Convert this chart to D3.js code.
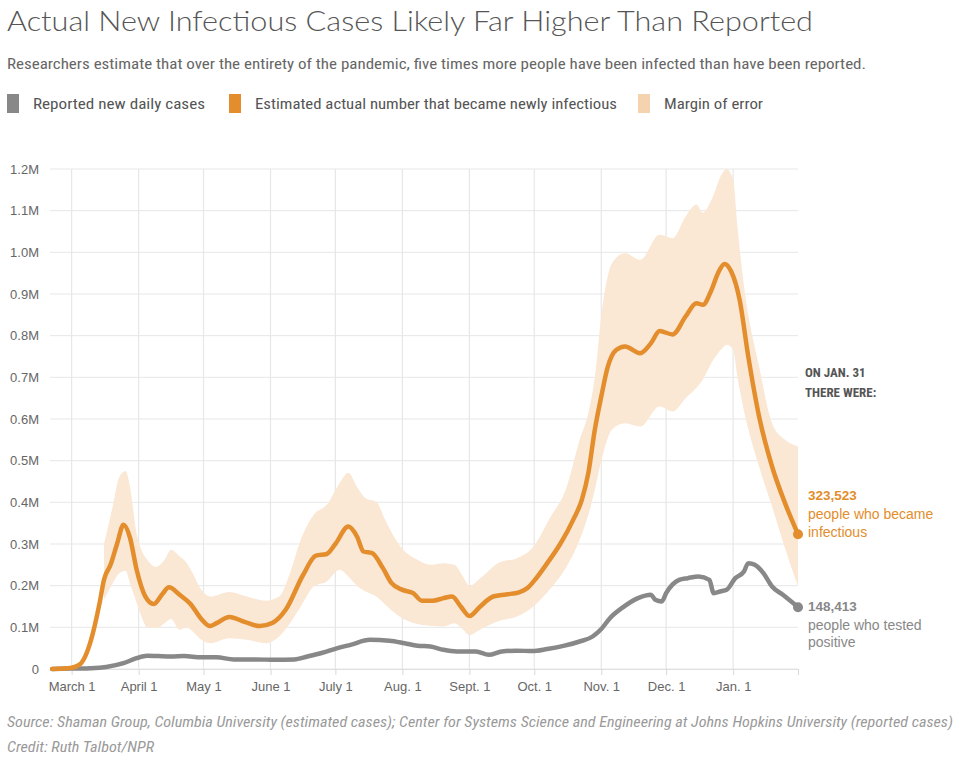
<!DOCTYPE html>
<html>
<head>
<meta charset="utf-8">
<script src="https://cdn.jsdelivr.net/npm/d3@7"></script>
<style>
  html, body { margin: 0; padding: 0; background: #fff; }
  svg { display: block; }
</style>
</head>
<body>
<svg id="chart" width="964" height="762"></svg>
<script>
// ---------------- DATA ----------------
const estDates = ["2020-02-21","2020-03-01","2020-03-05","2020-03-10","2020-03-14","2020-03-16","2020-03-19","2020-03-22","2020-03-25","2020-03-28","2020-03-31","2020-04-04","2020-04-08","2020-04-12","2020-04-15","2020-04-20","2020-04-25","2020-04-30","2020-05-04","2020-05-07","2020-05-13","2020-05-20","2020-05-27","2020-06-02","2020-06-08","2020-06-16","2020-06-22","2020-06-27","2020-07-01","2020-07-07","2020-07-11","2020-07-14","2020-07-18","2020-07-23","2020-07-27","2020-08-01","2020-08-06","2020-08-10","2020-08-15","2020-08-20","2020-08-24","2020-08-28","2020-09-01","2020-09-06","2020-09-12","2020-09-18","2020-09-24","2020-09-28","2020-10-01","2020-10-07","2020-10-13","2020-10-19","2020-10-23","2020-10-26","2020-10-29","2020-11-01","2020-11-04","2020-11-08","2020-11-12","2020-11-19","2020-11-24","2020-11-28","2020-12-04","2020-12-10","2020-12-15","2020-12-18","2020-12-22","2020-12-25","2020-12-28","2020-12-31","2021-01-04","2021-01-08","2021-01-13","2021-01-19","2021-01-25","2021-01-31"];
const estValues = [0,3000,12000,70000,160000,215000,250000,300000,346000,315000,240000,175000,156000,180000,196000,178000,156000,120000,103000,110000,125000,113000,103000,111000,142000,225000,272000,276000,300000,342000,318000,282000,278000,242000,206000,190000,182000,164000,164000,170000,174000,150000,127000,150000,174000,179000,184000,195000,212000,254000,300000,358000,406000,470000,574000,654000,725000,766000,774000,758000,782000,811000,803000,846000,878000,874000,910000,950000,972000,955000,886000,750000,606000,486000,398000,323523];

const bandDates = ["2020-03-16","2020-03-20","2020-03-23","2020-03-26","2020-03-28","2020-03-31","2020-04-02","2020-04-05","2020-04-09","2020-04-13","2020-04-16","2020-04-20","2020-04-23","2020-04-26","2020-04-30","2020-05-04","2020-05-13","2020-05-21","2020-05-30","2020-06-05","2020-06-10","2020-06-15","2020-06-21","2020-06-27","2020-07-03","2020-07-07","2020-07-11","2020-07-15","2020-07-20","2020-07-24","2020-07-31","2020-08-08","2020-08-14","2020-08-20","2020-08-25","2020-08-29","2020-09-01","2020-09-07","2020-09-15","2020-09-23","2020-10-01","2020-10-08","2020-10-16","2020-10-22","2020-10-26","2020-10-29","2020-11-01","2020-11-06","2020-11-12","2020-11-19","2020-11-28","2020-12-04","2020-12-10","2020-12-15","2020-12-18","2020-12-22","2020-12-27","2020-12-29","2021-01-01","2021-01-03","2021-01-06","2021-01-13","2021-01-19","2021-01-25","2021-01-31"];
const bandLower = [166000,206000,230000,236000,206000,160000,130000,100000,98000,110000,120000,94000,100000,90000,70000,62000,74000,70000,62000,78000,110000,150000,198000,210000,238000,222000,200000,186000,174000,155000,125000,108000,104000,102000,110000,95000,82000,98000,116000,126000,152000,190000,246000,310000,370000,430000,500000,575000,590000,582000,630000,618000,650000,675000,695000,735000,770000,778000,766000,700000,620000,486000,390000,290000,198000];
const bandUpper = [300000,390000,460000,475000,437000,326000,290000,262000,245000,262000,286000,270000,256000,230000,190000,174000,185000,174000,164000,174000,230000,310000,370000,394000,446000,471000,437000,410000,401000,358000,294000,262000,250000,254000,250000,222000,200000,222000,256000,266000,296000,360000,437000,550000,614000,700000,846000,974000,998000,982000,1042000,1034000,1086000,1115000,1095000,1126000,1190000,1200000,1174000,1060000,920000,726000,590000,550000,534000];

const repDates = ["2020-02-21","2020-03-01","2020-03-10","2020-03-17","2020-03-25","2020-03-31","2020-04-05","2020-04-10","2020-04-16","2020-04-22","2020-04-30","2020-05-07","2020-05-15","2020-05-25","2020-06-03","2020-06-12","2020-06-18","2020-06-25","2020-07-02","2020-07-08","2020-07-17","2020-07-26","2020-08-02","2020-08-08","2020-08-14","2020-08-20","2020-08-26","2020-09-04","2020-09-10","2020-09-16","2020-09-23","2020-09-30","2020-10-07","2020-10-15","2020-10-22","2020-10-28","2020-11-01","2020-11-05","2020-11-11","2020-11-18","2020-11-24","2020-11-26","2020-11-29","2020-12-01","2020-12-07","2020-12-11","2020-12-16","2020-12-21","2020-12-23","2020-12-26","2020-12-29","2021-01-02","2021-01-06","2021-01-08","2021-01-11","2021-01-15","2021-01-19","2021-01-24","2021-01-31"];
const repValues = [0,1000,2000,5000,14000,26000,32000,31000,30000,31000,28000,28000,23000,23000,22000,23000,30000,39000,50000,58000,70000,68000,62000,56000,54000,46000,42000,42000,34000,42000,44000,43000,48000,56000,66000,78000,96000,122000,148000,170000,178000,166000,162000,182000,214000,218000,222000,214000,182000,186000,190000,218000,234000,254000,250000,230000,198000,178000,148413];

const xTickDates = ["2020-03-01","2020-04-01","2020-05-01","2020-06-01","2020-07-01","2020-08-01","2020-09-01","2020-10-01","2020-11-01","2020-12-01","2021-01-01"];
const xTickLabels = ["March 1","April 1","May 1","June 1","July 1","Aug. 1","Sept. 1","Oct. 1","Nov. 1","Dec. 1","Jan. 1"];
const yTickValues = [0,100000,200000,300000,400000,500000,600000,700000,800000,900000,1000000,1100000,1200000];
const yTickLabels = ["0","0.1M","0.2M","0.3M","0.4M","0.5M","0.6M","0.7M","0.8M","0.9M","1.0M","1.1M","1.2M"];

const titleText = "Actual New Infectious Cases Likely Far Higher Than Reported";
const subtitleText = "Researchers estimate that over the entirety of the pandemic, five times more people have been infected than have been reported.";
const legendLabels = ["Reported new daily cases","Estimated actual number that became newly infectious","Margin of error"];
const sourceText = "Source: Shaman Group, Columbia University (estimated cases); Center for Systems Science and Engineering at Johns Hopkins University (reported cases)";
const creditText = "Credit: Ruth Talbot/NPR";

// ---------------- STYLE ----------------
const ORANGE = "#e38d2c", GRAY = "#888888", BAND = "#fae7d4", BAND_LEG = "#f5d3ae";
const SANS = "'Liberation Sans', Arial, Helvetica, sans-serif";
const NARROW = "'Liberation Sans Narrow', 'Arial Narrow', 'Roboto Condensed', 'Liberation Sans', sans-serif";

const parse = d3.timeParse("%Y-%m-%d");
const svg = d3.select("#chart");

const x = d3.scaleTime().domain([parse("2020-02-20"), parse("2021-01-31")]).range([50, 798]);
const y = d3.scaleLinear().domain([0, 1200000]).range([669, 169]);

// title / subtitle
svg.append("text").attr("x", 7).attr("y", 31).text(titleText)
  .attr("font-family", "Lato, 'Open Sans', sans-serif").attr("font-weight", 300)
  .attr("font-size", 28).attr("fill", "#555")
  .attr("textLength", 806).attr("lengthAdjust", "spacingAndGlyphs");
svg.append("text").attr("x", 7).attr("y", 69).text(subtitleText)
  .attr("font-family", NARROW).attr("font-size", 15).attr("fill", "#666")
  .attr("textLength", 859).attr("lengthAdjust", "spacingAndGlyphs");

// legend
const legendItems = [
  {x: 7, color: GRAY, w: 172},
  {x: 229, color: ORANGE, w: 362},
  {x: 638, color: BAND_LEG, w: 99}
];
legendItems.forEach((it, i) => {
  svg.append("rect").attr("x", it.x).attr("y", 94).attr("width", 12).attr("height", 19).attr("fill", it.color);
  svg.append("text").attr("x", it.x + 26).attr("y", 109).text(legendLabels[i])
    .attr("font-family", NARROW).attr("font-size", 15).attr("fill", "#555")
    .attr("textLength", it.w).attr("lengthAdjust", "spacingAndGlyphs");
});

// gridlines
const grid = svg.append("g");
grid.selectAll("line.h").data(yTickValues).join("line")
  .attr("x1", 50).attr("x2", 798).attr("y1", d => y(d)).attr("y2", d => y(d))
  .attr("stroke", "#e7e7e7").attr("stroke-width", 1);
grid.selectAll("line.v").data(xTickDates.map(parse)).join("line")
  .attr("x1", d => x(d)).attr("x2", d => x(d)).attr("y1", y(1200000)).attr("y2", y(0))
  .attr("stroke", "#e7e7e7").attr("stroke-width", 1.2);

// x axis
const xAxis = d3.axisBottom(x)
  .tickValues(xTickDates.map(parse).concat([parse("2021-01-31")]))
  .tickFormat((d, i) => xTickLabels[i] || "")
  .tickSize(6).tickSizeOuter(0);
const gx = svg.append("g").attr("transform", `translate(0,${y(0)})`).call(xAxis);
gx.select(".domain").attr("stroke", "#e0e0e0");
gx.selectAll(".tick line").attr("stroke", "#d8d8d8");
gx.selectAll(".tick text").attr("font-family", SANS).attr("font-size", 13).attr("fill", "#666").attr("dy", "1.0em");

// y axis
const yAxis = d3.axisLeft(y).tickValues(yTickValues).tickFormat((d, i) => yTickLabels[i]).tickSize(0).tickPadding(0);
const gy = svg.append("g").attr("transform", "translate(39,0)").call(yAxis);
gy.select(".domain").remove();
gy.selectAll(".tick text").attr("font-family", SANS).attr("font-size", 13).attr("fill", "#666");

// band
const bandData = bandDates.map((d, i) => ({date: parse(d), lo: bandLower[i], hi: bandUpper[i]}));
const area = d3.area().x(d => x(d.date)).y0(d => y(d.lo)).y1(d => y(d.hi)).curve(d3.curveMonotoneX);
svg.append("path").datum(bandData).attr("d", area).attr("fill", BAND);

// lines
const line = d3.line().x(d => x(d.date)).y(d => y(d.v)).curve(d3.curveMonotoneX);
const repData = repDates.map((d, i) => ({date: parse(d), v: repValues[i]}));
const estData = estDates.map((d, i) => ({date: parse(d), v: estValues[i]}));
svg.append("path").datum(repData).attr("d", line).attr("fill", "none")
  .attr("stroke", GRAY).attr("stroke-width", 4.5).attr("stroke-linejoin", "round").attr("stroke-linecap", "round");
svg.append("path").datum(estData).attr("d", line).attr("fill", "none")
  .attr("stroke", ORANGE).attr("stroke-width", 4.5).attr("stroke-linejoin", "round").attr("stroke-linecap", "round");

// end dots
const lastRep = repData[repData.length - 1], lastEst = estData[estData.length - 1];
svg.append("circle").attr("cx", x(lastRep.date)).attr("cy", y(lastRep.v)).attr("r", 5).attr("fill", GRAY);
svg.append("circle").attr("cx", x(lastEst.date)).attr("cy", y(lastEst.v)).attr("r", 5).attr("fill", ORANGE);

// annotations
const fmt = d3.format(",");
const ann = svg.append("g").attr("font-family", NARROW);
ann.append("text").attr("x", 805).attr("y", 377).text("ON JAN. 31").attr("font-weight", "bold").attr("font-size", 13).attr("fill", "#555");
ann.append("text").attr("x", 805).attr("y", 397).text("THERE WERE:").attr("font-weight", "bold").attr("font-size", 13).attr("fill", "#555");
ann.append("text").attr("x", 808).attr("y", 500).text(fmt(lastEst.v)).attr("font-family", SANS).attr("font-weight", "bold").attr("font-size", 13.5).attr("fill", ORANGE);
ann.append("text").attr("x", 808).attr("y", 519).text("people who became").attr("font-family", SANS).attr("font-size", 14).attr("fill", ORANGE);
ann.append("text").attr("x", 808).attr("y", 537).text("infectious").attr("font-family", SANS).attr("font-size", 14).attr("fill", ORANGE);
ann.append("text").attr("x", 808).attr("y", 611).text(fmt(lastRep.v)).attr("font-family", SANS).attr("font-weight", "bold").attr("font-size", 13.5).attr("fill", GRAY);
ann.append("text").attr("x", 808).attr("y", 630).text("people who tested").attr("font-family", SANS).attr("font-size", 14).attr("fill", GRAY);
ann.append("text").attr("x", 808).attr("y", 647).text("positive").attr("font-family", SANS).attr("font-size", 14).attr("fill", GRAY);

// footer
svg.append("text").attr("x", 7).attr("y", 727).text(sourceText)
  .attr("font-family", NARROW).attr("font-style", "italic").attr("font-size", 14).attr("fill", "#9a9a9a")
  .attr("textLength", 946).attr("lengthAdjust", "spacingAndGlyphs");
svg.append("text").attr("x", 7).attr("y", 752).text(creditText)
  .attr("font-family", NARROW).attr("font-style", "italic").attr("font-size", 14).attr("fill", "#9a9a9a")
  .attr("textLength", 147).attr("lengthAdjust", "spacingAndGlyphs");
</script>
</body>
</html>
